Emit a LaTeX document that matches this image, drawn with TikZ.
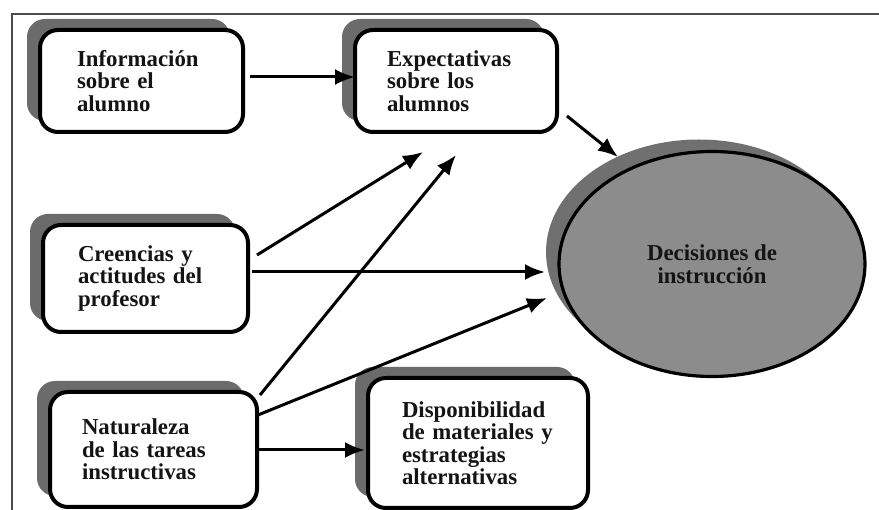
\documentclass[tikz,border=0pt]{standalone}
\usepackage{fontspec}
\setmainfont{Liberation Serif}
\usetikzlibrary{arrows.meta,shapes.geometric,shadows}
\definecolor{cardshadow}{HTML}{6B6B6B}
\definecolor{ovalfill}{HTML}{8C8C8C}
\definecolor{ovalshadow}{HTML}{707070}
\definecolor{inkblack}{HTML}{141414}
\begin{document}
\begin{tikzpicture}[x=1pt,y=-1pt,
  label text/.style={font=\fontsize{22.8}{22.5}\selectfont\bfseries, text=inkblack},
  card/.style={label text, draw=black, line width=4pt, rounded corners=18pt,
    fill=white, align=left, inner ysep=0pt, outer sep=0pt,
    general shadow={fill=cardshadow, shadow xshift=-13pt, shadow yshift=11pt}},
  oval/.style={label text, ellipse, draw=black, line width=3.2pt, fill=ovalfill,
    align=center, inner sep=0pt, outer sep=0pt,
    general shadow={fill=ovalshadow, shadow xshift=-13pt, shadow yshift=12pt}},
  conn/.style={line width=3pt, draw=black, -{Latex[length=20pt,width=16pt]}},
  frame/.style={line width=1.5pt, draw=black!70}]
\useasboundingbox (0,0) rectangle (879,510);

% page frame
\draw[frame] (879,14) -- (12,14) -- (12,510);

% boxes
\node[card, minimum width=203pt, minimum height=102pt, inner xsep=37pt, text width=129pt]
  (b1) at (141.5,81) {Información\\sobre el\\alumno};
\node[card, minimum width=202pt, minimum height=102pt, inner xsep=32pt, text width=138pt]
  (b2) at (456,81) {Expectativas\\sobre los\\alumnos};
\node[card, minimum width=205pt, minimum height=107pt, inner xsep=35pt, text width=135pt]
  (b3) at (145.5,278.5) {Creencias y\\actitudes del\\profesor};
\node[card, minimum width=207pt, minimum height=115pt, inner xsep=32pt, text width=143pt]
  (b4) at (153.5,449.5) {Naturaleza\\de las tareas\\instructivas};
\node[card, minimum width=220pt, minimum height=130pt, inner xsep=34pt, text width=152pt]
  (b5) at (478,443) {Disponibilidad\\de materiales y\\estrategias\\alternativas};

% decision oval
\node[oval, minimum width=306pt, minimum height=225pt]
  (e) at (712,264) {Decisiones de\\instrucción};

% connectors
\draw[conn] ([shift={(7,-4)}]b1.east) -- ([shift={(0,-4)}]b2.west);
\draw[conn] ([shift={(10,-16)}]b2.south east) -- ([shift={(-94,-107)}]e.center);
\draw[conn] ([shift={(9,-23.5)}]b3.east) -- ([shift={(-33,20)}]b2.south);
\draw[conn] ([shift={(4,-6.5)}]b3.east) -- ([shift={(-167,8)}]e.center);
\draw[conn] ([shift={(3,3)}]b4.north east) -- ([shift={(0,23)}]b2.south);
\draw[conn] ([shift={(1,-34.5)}]b4.east) -- ([shift={(-165,34)}]e.center);
\draw[conn] ([shift={(2,0.5)}]b4.east) -- ([shift={(-3,7)}]b5.west);
\end{tikzpicture}
\end{document}
